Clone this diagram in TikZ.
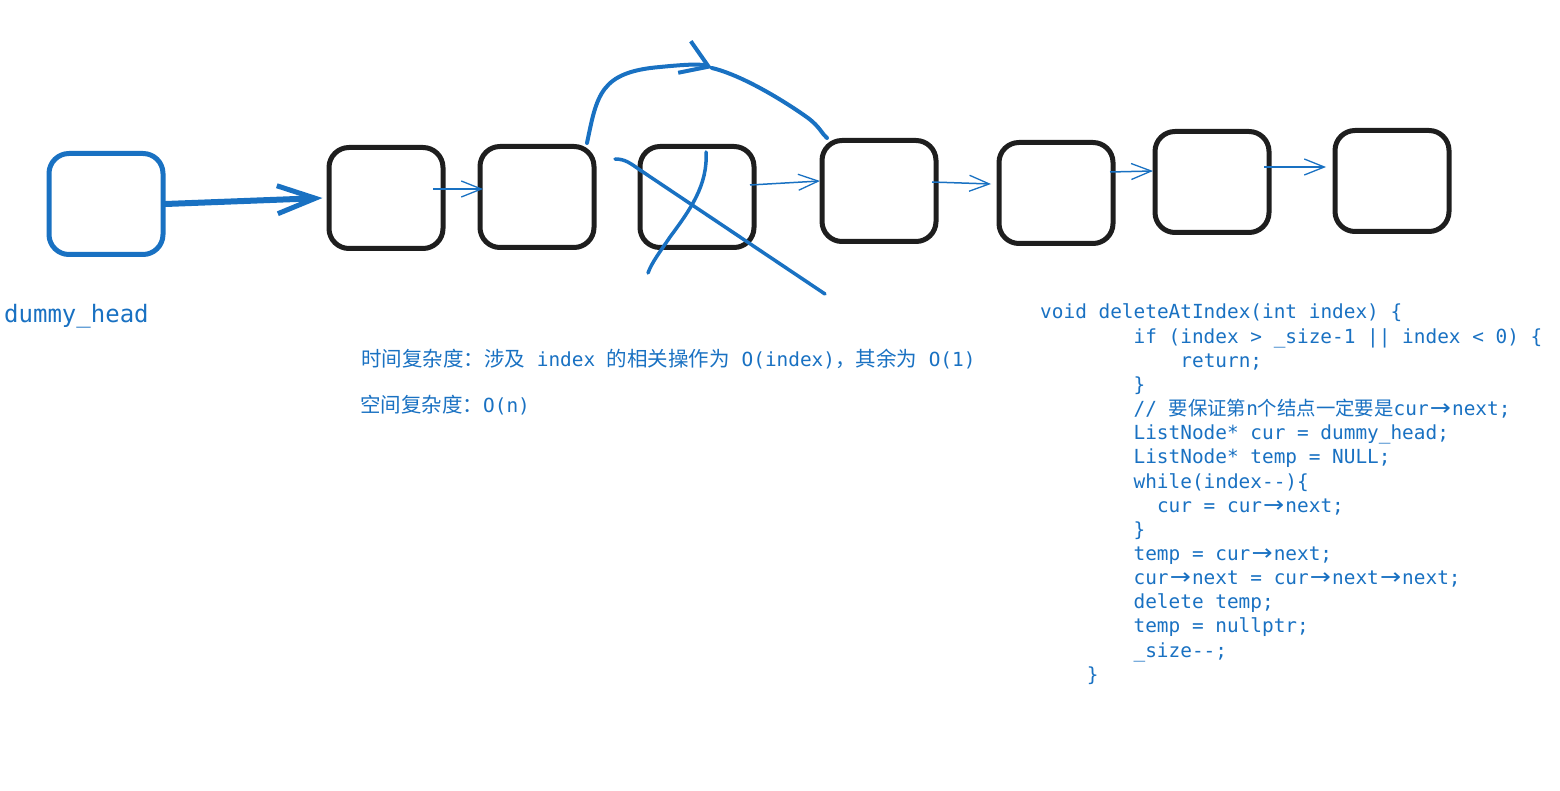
\documentclass[tikz,border=0pt]{standalone}
\usepackage{fontspec}
\usepackage{graphicx}
\setmonofont{DejaVu Sans Mono}
\newfontfamily\cjk{Noto Sans CJK SC}
\newfontfamily\arrowfont{DejaVu Sans}
\usetikzlibrary{arrows.meta}
\definecolor{eblue}{HTML}{1971C2}
\definecolor{eblack}{HTML}{1E1E1E}
\newcommand\pto{\makebox[1.204em]{\scalebox{1.3}[1.15]{\arrowfont →}}}
\newcommand\bigcjk{\cjk\fontsize{20.5}{24}\selectfont}
\frenchspacing
\begin{document}
\begin{tikzpicture}[x=1pt,y=-1pt,
  listbox/.style={draw=eblack,line width=5pt,rounded corners=20pt,minimum width=114pt,minimum height=101pt,inner sep=0pt},
  headbox/.style={listbox,draw=eblue},
  linkarrow/.style={draw=eblue,line width=1.5pt,-{Straight Barb[length=20pt,width=16pt,line width=1.3pt]}},
  headarrow/.style={draw=eblue,line width=6pt,line cap=round,-{Straight Barb[length=38pt,width=28pt,line width=5pt]}},
  bigarrow/.style={draw=eblue,line width=4pt,line cap=round,-{Straight Barb[length=26pt,width=34pt,line width=4pt]}},
  bigline/.style={draw=eblue,line width=4pt,line cap=round},
  strike/.style={draw=eblue,line width=3.5pt,line cap=round},
  codeline/.style={anchor=base west,inner sep=0pt,text=eblue,font=\ttfamily\fontsize{19.4}{24}\selectfont},
  label/.style={anchor=base west,inner sep=0pt,text=eblue,font=\ttfamily\fontsize{24}{28}\selectfont}]
\useasboundingbox (0,0) rectangle (1560,791);

% list nodes
\node[headbox] (dm) at (106,204) {};
\node[listbox] (b1) at (386,198) {};
\node[listbox] (b2) at (537,197) {};
\node[listbox] (b3) at (697,197) {};
\node[listbox] (b4) at (879,191) {};
\node[listbox] (b5) at (1056,193) {};
\node[listbox] (b6) at (1212,182) {};
\node[listbox] (b7) at (1392,181) {};

% links
\draw[headarrow] (dm.east) -- ([xshift=-4pt]b1.west);
\draw[linkarrow] ([shift={(47,-9)}]b1.center) -- ([shift={(-54,-8)}]b2.center);
\draw[linkarrow] ([shift={(53,-12)}]b3.center) -- ([shift={(-59,-10)}]b4.center);
\draw[linkarrow] ([shift={(53,-9)}]b4.center) -- ([shift={(-65,-9)}]b5.center);
\draw[linkarrow] ([shift={(54,-21)}]b5.center) -- ([shift={(-59,-11)}]b6.center);
\draw[linkarrow] ([shift={(52,-15)}]b6.center) -- ([shift={(-66,-14)}]b7.center);

% bypass arrow
\coordinate (mid) at (712,68);
\draw[bigarrow] ([shift={(50,-54)}]b2.center) .. controls (597,95) and (600,72) .. (660,67)
   .. controls (690,64) and (702,64) .. (mid);
\draw[bigline] (mid) .. controls (745,76) and (790,105) .. (808,118)
   .. controls (820,127) and (822,134) .. ([shift={(-52,-53)}]b4.center);

% strike-through of deleted node
\draw[strike] (615,159) .. controls (625,159) and (630,163) .. (640,170) -- (825,294);
\draw[strike] (706,152) .. controls (708,185) and (690,210) .. (670,237)
   .. controls (660,252) and (652,262) .. (648,273);

% labels
\node[label] (lbl) at (4,322.7) {dummy\_head};
\node[codeline] (t1) at (361,366.7) {{\bigcjk 时间复杂度：涉及} index {\bigcjk 的相关操作为} O(index){\bigcjk ，其余为} O(1)};
\node[codeline] (t2) at (360,412.7) {{\bigcjk 空间复杂度：}O(n)};

% code
\node[codeline] (c1)  at (1040,319.00) {void deleteAtIndex(int index) \{};
\node[codeline] (c2)  at (1133.4,343.15) {if (index > \_size-1 || index < 0) \{};
\node[codeline] (c3)  at (1180.2,367.30) {return;};
\node[codeline] (c4)  at (1133.4,391.45) {\}};
\node[codeline] (c5)  at (1133.4,415.60) {// {\cjk 要保证第}n{\cjk 个结点一定要是}cur\pto next;};
\node[codeline] (c6)  at (1133.4,439.75) {ListNode* cur = dummy\_head;};
\node[codeline] (c7)  at (1133.4,463.90) {ListNode* temp = NULL;};
\node[codeline] (c8)  at (1133.4,488.05) {while(index-{}-)\{};
\node[codeline] (c9)  at (1156.8,512.20) {cur = cur\pto next;};
\node[codeline] (c10) at (1133.4,536.35) {\}};
\node[codeline] (c11) at (1133.4,560.50) {temp = cur\pto next;};
\node[codeline] (c12) at (1133.4,584.65) {cur\pto next = cur\pto next\pto next;};
\node[codeline] (c13) at (1133.4,608.80) {delete temp;};
\node[codeline] (c14) at (1133.4,632.95) {temp = nullptr;};
\node[codeline] (c15) at (1133.4,657.10) {\_size-{}-;};
\node[codeline] (c16) at (1086.7,681.25) {\}};
\end{tikzpicture}
\end{document}
